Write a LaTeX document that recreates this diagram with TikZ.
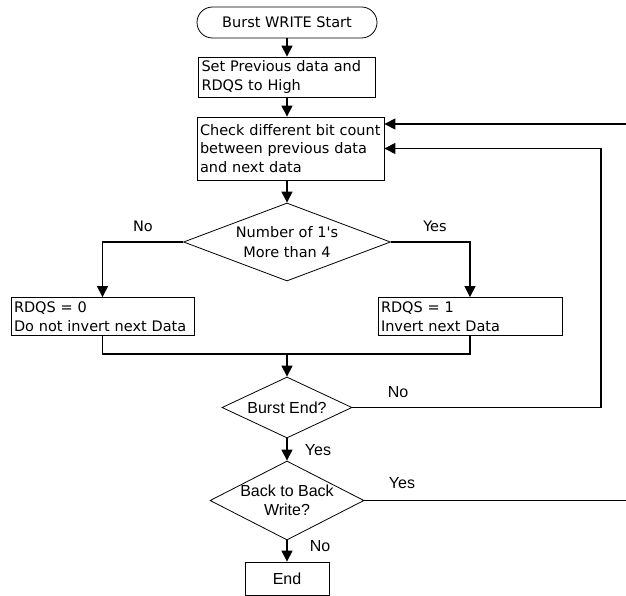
\documentclass[tikz,border=0pt]{standalone}
\usepackage{fontspec}
\setmainfont{DejaVu Sans}
\newfontfamily\arialfont{Liberation Sans}
\usetikzlibrary{arrows.meta,shapes.geometric}

\begin{document}
\begin{tikzpicture}[x=1pt,y=-1pt,>={Triangle[length=11pt,width=11pt]},
	box/.style={rectangle, draw, line width=0.8pt, inner xsep=3pt, inner ysep=0pt, align=left, font=\fontsize{14.5}{18.5}\selectfont},
	decision/.style={diamond, draw, line width=0.8pt, inner sep=0pt},
	txt/.style={align=center, inner sep=0pt, font=\fontsize{14.5}{19.5}\selectfont},
	atxt/.style={align=center, inner sep=0pt, font=\arialfont\fontsize{16}{19}\selectfont},
	flow/.style={line width=1.1pt}]
		\useasboundingbox (0,0) rectangle (626,596);

		\node[box, rounded corners=15.5pt, minimum width=180pt, minimum height=31pt, align=center] (start) at (287,22.5) {Burst WRITE Start};
		\node[box, text width=171pt, minimum height=40pt] (prev) at (287,77) {Set Previous data and\\RDQS to High};
		\node[box, text width=181pt, minimum height=63pt] (chk) at (290.5,148.5) {Check different bit count\\between previous data\\and next data};
		\node[decision, minimum width=207pt, minimum height=78pt] (ones) at (287,242) {};
		\node[txt] (ones-t) at (ones) {Number of 1\textquotesingle s\\More than 4};
		\node[box, text width=177pt, minimum height=38pt] (noinv) at (102.5,316.5) {RDQS = 0\\Do not invert next Data};
		\node[box, text width=178pt, minimum height=38pt] (inv) at (470,316.5) {RDQS = 1\\Invert next Data};
		\node[decision, minimum width=130pt, minimum height=61pt] (bend) at (287,407.5) {};
		\node[atxt] (bend-t) at (bend) {Burst End?};
		\node[decision, minimum width=154pt, minimum height=79pt] (b2b) at (287,500.5) {};
		\node[atxt] (b2b-t) at (b2b) {Back to Back\\Write?};
		\node[box, atxt, draw, minimum width=84pt, minimum height=33pt] (done) at (287,578.5) {End};

		\node[txt] (no1) at (143,226) {No};
		\node[txt] (yes1) at (435,226) {Yes};
		\node[atxt] (no2) at (398,392) {No};
		\node[atxt] (yes2) at (318,450) {Yes};
		\node[atxt] (yes3) at (402,483) {Yes};
		\node[atxt] (no3) at (320,546) {No};

		\coordinate (merge) at (287,354);
		\coordinate (loop) at (601,148.5);
		\coordinate (edgeA) at (626,500.5);
		\coordinate (edgeB) at (626,124);

		\draw[->, flow] (start) -- (prev);
		\draw[->, flow] (prev) -- (prev |- chk.north);
		\draw[->, flow] (ones |- chk.south) -- (ones);
		\draw[->, flow] (ones.west) -| (noinv.north);
		\draw[->, flow] (ones.east) -| (inv.north);
		\draw[flow] (noinv.south) |- (merge) -| (inv.south);
		\draw[->, flow] (merge) -- (bend.north);
		\draw[->, flow] (bend.east) -| (loop) -- (chk.east);
		\draw[->, flow] (bend.south) -- (b2b.north);
		\draw[flow] (b2b.east) -- (edgeA);
		\draw[->, flow] (edgeB) -- (edgeB -| chk.east);
		\draw[->, flow] (b2b.south) -- (done.north);
	\end{tikzpicture}
\end{document}
